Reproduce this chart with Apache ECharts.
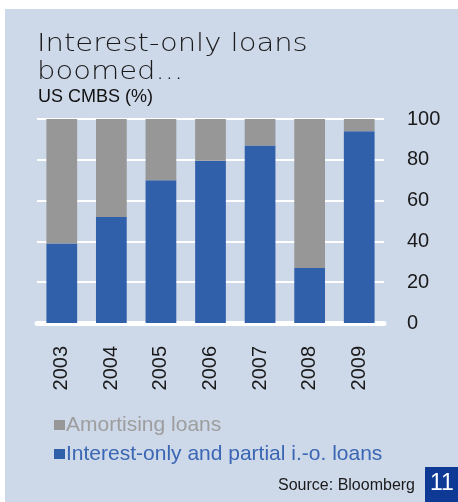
<!DOCTYPE html>
<html>
<head>
<meta charset="utf-8">
<script src="https://cdn.jsdelivr.net/npm/echarts@6/dist/echarts.min.js"></script>
<style>
  html, body { margin: 0; padding: 0; background: #ffffff; }
  #chart { width: 458px; height: 502px; }
</style>
</head>
<body>
<div id="chart"></div>
<script>
// Share of US CMBS issuance by loan type, per year (%)
const years = ['2003', '2004', '2005', '2006', '2007', '2008', '2009'];
const interestOnly = [39, 52, 70, 79.5, 87, 27, 94];
const amortising = [61, 48, 30, 20.5, 13, 73, 6];
const yTicks = [0, 20, 40, 60, 80, 100];

const BLUE = '#3160ab';
const GREY = '#979797';
const PANEL = '#cdd8e9';
const SANS = '"Liberation Sans", Arial, sans-serif';

const chart = echarts.init(document.getElementById('chart'), null, { renderer: 'canvas' });

chart.setOption({
  backgroundColor: '#ffffff',
  animation: false,
  graphic: [
    { type: 'rect', left: 5, top: 9, shape: { width: 453, height: 493 }, style: { fill: PANEL }, z: -10 },
    {
      // headline, set in a light face and widened
      type: 'text', x: 37, y: 31, scaleX: 1.21,
      style: {
        text: 'Interest-only loans\nboomed...',
        font: '200 24px "DejaVu Sans", sans-serif',
        fill: '#1a1a1a', lineHeight: 28
      }
    },
    {
      type: 'text', left: 38, top: 88,
      style: { text: 'US CMBS (%)', font: '18px ' + SANS, fill: '#111111' }
    },
    {
      type: 'text', right: 43, top: 478,
      style: { text: 'Source: Bloomberg', font: '16px ' + SANS, fill: '#1a1a1a' }
    },
    { type: 'rect', left: 425, top: 467, shape: { width: 33, height: 35 }, style: { fill: '#0e3a96' } },
    {
      type: 'text', left: 430, top: 472,
      style: { text: '11', font: '23px ' + SANS, fill: '#ffffff' }
    }
  ],
  legend: {
    left: 54, top: 414,
    orient: 'vertical',
    itemGap: 7,
    itemWidth: 11, itemHeight: 10,
    icon: 'rect',
    padding: 0,
    textStyle: { fontFamily: SANS, fontSize: 21, padding: [0, 0, 0, -4], lineHeight: 22 },
    data: [
      { name: 'Amortising loans', textStyle: { color: '#9d9d9d' } },
      { name: 'Interest-only and partial i.-o. loans', textStyle: { color: '#3a66b3' } }
    ]
  },
  grid: { left: 37, right: 74, top: 119, bottom: 179, containLabel: false },
  xAxis: {
    type: 'category',
    data: years,
    axisLine: { show: true, lineStyle: { color: '#ffffff', width: 5 } },
    axisTick: { show: false },
    axisLabel: {
      rotate: 90, margin: 23,
      fontFamily: SANS, fontSize: 20, color: '#1a1a1a'
    }
  },
  yAxis: {
    type: 'value',
    position: 'right',
    min: yTicks[0], max: yTicks[yTicks.length - 1], interval: 20,
    axisLine: { show: false },
    axisTick: { show: false },
    splitLine: { lineStyle: { color: '#ffffff', width: 2 } },
    axisLabel: {
      margin: 23, align: 'left',
      fontFamily: SANS, fontSize: 20, color: '#1a1a1a'
    }
  },
  series: [
    {
      name: 'Interest-only and partial i.-o. loans',
      type: 'bar', stack: 'total', data: interestOnly,
      barWidth: '62%',
      itemStyle: { color: BLUE }
    },
    {
      name: 'Amortising loans',
      type: 'bar', stack: 'total', data: amortising,
      barWidth: '62%',
      itemStyle: { color: GREY }
    }
  ]
});
</script>
</body>
</html>
